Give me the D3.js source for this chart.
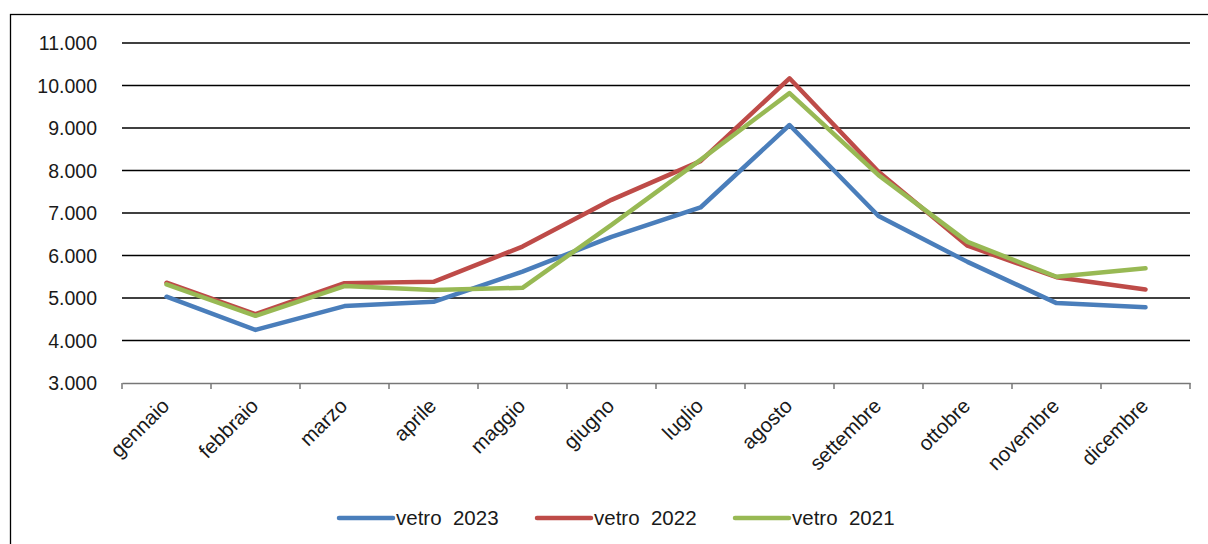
<!DOCTYPE html>
<html>
<head>
<meta charset="utf-8">
<script src="https://cdn.jsdelivr.net/npm/d3@7"></script>
<style>
  html, body { margin: 0; padding: 0; background: #fff; }
  svg { display: block; }
  text { font-family: "Liberation Sans", Arial, sans-serif; fill: #1a1a1a; }
</style>
</head>
<body>
<svg id="chart" width="1208" height="544"></svg>
<script>
const months = ["gennaio","febbraio","marzo","aprile","maggio","giugno","luglio","agosto","settembre","ottobre","novembre","dicembre"];
const vetro2023 = [5030, 4250, 4810, 4910, 5620, 6440, 7130, 9070, 6930, 5850, 4880, 4780];
const vetro2022 = [5360, 4620, 5350, 5380, 6210, 7310, 8220, 10170, 7970, 6230, 5490, 5200];
const vetro2021 = [5320, 4580, 5280, 5190, 5240, 6720, 8250, 9820, 7890, 6320, 5500, 5700];
const yTicks = [3000, 4000, 5000, 6000, 7000, 8000, 9000, 10000, 11000];
const seriesNames = ["vetro  2023", "vetro  2022", "vetro  2021"];
const seriesColors = ["#4a7ebb", "#be4b48", "#98b954"];

const series = [vetro2023, vetro2022, vetro2021].map((vals, i) => ({ name: seriesNames[i], color: seriesColors[i], values: vals }));

const svg = d3.select("#chart");
const mLeft = 122, mRight = 1190, mTop = 43, mBottom = 383;

// outer border (extends beyond viewport on right and bottom)
svg.append("rect").attr("x", 10.5).attr("y", 14.5).attr("width", 1220).attr("height", 560)
  .attr("fill", "none").attr("stroke", "#000").attr("stroke-width", 1.3);

const x = d3.scaleBand().domain(months).range([mLeft, mRight]).paddingInner(0).paddingOuter(0);
const y = d3.scaleLinear().domain([3000, 11000]).range([mBottom, mTop]);

const fmt = v => d3.format(",")(v).replace(/,/g, ".");

// gridlines
svg.append("g").selectAll("line").data(yTicks.filter(t => t > 3000)).join("line")
  .attr("x1", mLeft).attr("x2", mRight)
  .attr("y1", d => y(d)).attr("y2", d => y(d))
  .attr("stroke", "#000").attr("stroke-width", 1.3);

// y labels
svg.append("g").selectAll("text").data(yTicks).join("text")
  .attr("x", 97).attr("y", d => y(d)).attr("dy", "0.36em")
  .attr("text-anchor", "end").attr("font-size", 19.5)
  .text(d => fmt(d));

// x axis
const xAxis = d3.axisBottom(x).tickSize(0).tickFormat("");
const gx = svg.append("g").attr("transform", `translate(0,${mBottom})`).call(xAxis);
gx.select(".domain").attr("stroke", "#777").attr("stroke-width", 1.5);
// tick marks at band boundaries
const bounds = months.map(m => x(m)).concat([mRight]);
svg.append("g").selectAll("line").data(bounds).join("line")
  .attr("x1", d => d).attr("x2", d => d)
  .attr("y1", mBottom).attr("y2", mBottom + 6)
  .attr("stroke", "#777").attr("stroke-width", 1.5);

// x labels
svg.append("g").selectAll("text").data(months).join("text")
  .attr("transform", d => `translate(${x(d) + x.bandwidth() / 2 - 1},${mBottom + 19}) rotate(-45)`)
  .attr("text-anchor", "end").attr("dy", "0.35em").attr("font-size", 20.5)
  .text(d => d);

// lines
const line = d3.line()
  .x((d, i) => x(months[i]) + x.bandwidth() / 2)
  .y(d => y(d));

svg.append("g").selectAll("path").data(series).join("path")
  .attr("d", d => line(d.values))
  .attr("fill", "none").attr("stroke", d => d.color)
  .attr("stroke-width", 4.5).attr("stroke-linejoin", "round").attr("stroke-linecap", "round");

// legend
const legendX = [339, 537, 735];
const lg = svg.append("g").selectAll("g").data(series).join("g")
  .attr("transform", (d, i) => `translate(${legendX[i]},518)`);
lg.append("line").attr("x1", 0).attr("x2", 54).attr("y1", 0).attr("y2", 0)
  .attr("stroke", d => d.color).attr("stroke-width", 4.5).attr("stroke-linecap", "round");
lg.append("text").attr("x", 57).attr("y", 0).attr("dy", "0.36em")
  .attr("font-size", 20.5).attr("xml:space", "preserve").style("white-space", "pre")
  .text(d => d.name);
</script>
</body>
</html>
